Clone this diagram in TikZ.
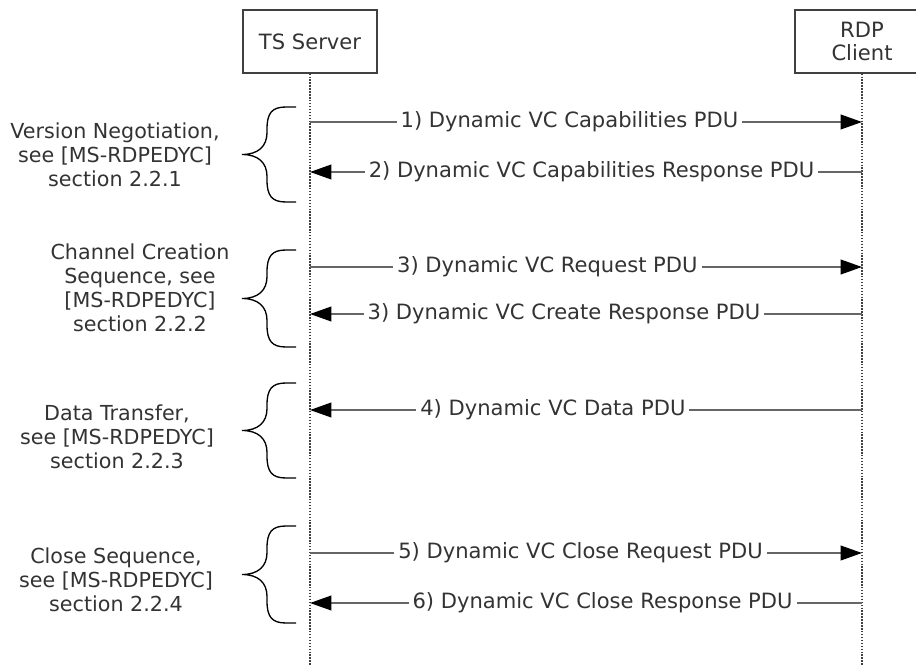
\documentclass[tikz,border=0pt]{standalone}
\usepackage{fontspec}
\setmainfont{DejaVu Sans}
\usetikzlibrary{arrows.meta}
\tikzset{
    actor/.style={draw=black!75, line width=1.2pt, minimum width=100.5pt, minimum height=47pt, align=center, font=\fontsize{15.8}{17}\selectfont, text=black!80},
    lifeline/.style={draw=black!75, line width=1.2pt, dash pattern=on 1.1pt off 1.1pt},
    msg/.style={draw=black!60, line width=1.3pt, >={Triangle[length=16pt, width=11pt, fill=black, color=black]}},
    msglabel/.style={fill=white, inner xsep=3pt, inner ysep=1pt, text=black!80, font=\fontsize{15.8}{17}\selectfont},
    grouplabel/.style={align=center, text=black!80, font=\fontsize{15.5}{18}\selectfont},
    bracket/.style={draw=black, line width=1pt}
}
\begin{document}
\begin{tikzpicture}[x=0.75pt, y=-0.75pt]
    \useasboundingbox[fill=white] (0,0) rectangle (916,666);
    % participants
    \node[actor] (server) at (310,41.5) {TS Server};
    \node[actor] (client) at (862,41.5) {RDP\\Client};
    \draw[lifeline] (server.south) -- (310,666);
    \draw[lifeline] (client.south) -- (862,666);
    % messages
    \foreach \n/\y in {1/122, 2/172, 3/267, 4/314, 5/410, 6/553, 7/603} {
        \coordinate (s\n) at (310,\y);
        \coordinate (c\n) at (862,\y);
    }
    \draw[msg,->] (s1) -- node[msglabel, pos=0.47] {1) Dynamic VC Capabilities PDU} (c1);
    \draw[msg,<-] (s2) -- node[msglabel, pos=0.51] {2) Dynamic VC Capabilities Response PDU} (c2);
    \draw[msg,->] (s3) -- node[msglabel, pos=0.43] {3) Dynamic VC Request PDU} (c3);
    \draw[msg,<-] (s4) -- node[msglabel, pos=0.46] {3) Dynamic VC Create Response PDU} (c4);
    \draw[msg,<-] (s5) -- node[msglabel, pos=0.44] {4) Dynamic VC Data PDU} (c5);
    \draw[msg,->] (s6) -- node[msglabel, pos=0.49] {5) Dynamic VC Close Request PDU} (c6);
    \draw[msg,<-] (s7) -- node[msglabel, pos=0.53] {6) Dynamic VC Close Response PDU} (c7);
    % braces
    \foreach \t/\b in {107/202, 250/347, 383/478, 526/623} {
        \pgfmathsetmacro{\m}{(\t+\b)/2}
        \draw[bracket] (296,\t) -- (286,\t) .. controls (272,\t) and (267,\t+6) .. (267,\t+22)
            -- (267,\m-22) .. controls (267,\m-8) and (258,\m) .. (242,\m)
            .. controls (258,\m) and (267,\m+8) .. (267,\m+22)
            -- (267,\b-22) .. controls (267,\b-6) and (272,\b) .. (286,\b) -- (296,\b);
    }
    % group labels
    \node[grouplabel] (version) at (115,155) {Version Negotiation,\\see [MS-RDPEDYC]\\section 2.2.1};
    \node[grouplabel] (creation) at (140,288) {Channel Creation\\Sequence, see\\{}[MS-RDPEDYC]\\section 2.2.2};
    \node[grouplabel] (transfer) at (117,437) {Data Transfer,\\see [MS-RDPEDYC]\\section 2.2.3};
    \node[grouplabel] (close) at (116,580) {Close Sequence,\\see [MS-RDPEDYC]\\section 2.2.4};
\end{tikzpicture}
\end{document}
